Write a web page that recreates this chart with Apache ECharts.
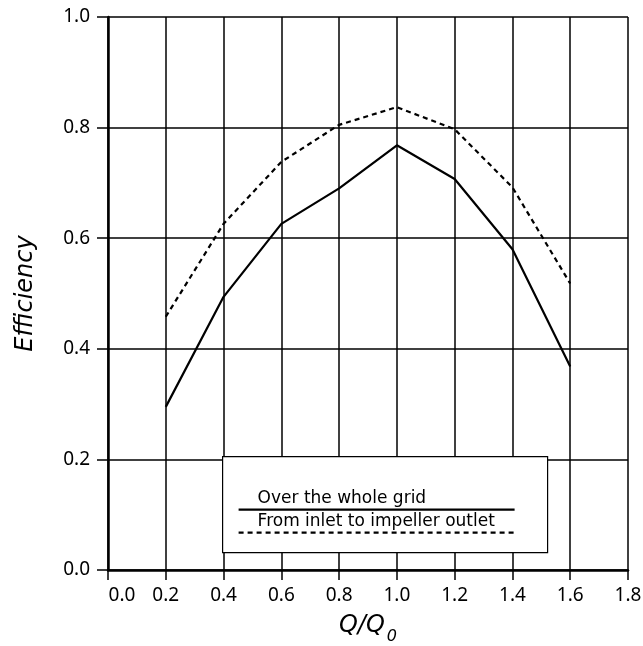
<!DOCTYPE html>
<html>
<head>
<meta charset="utf-8">
<style>
  html, body { margin: 0; padding: 0; background: #fff; }
  #chart { width: 643px; height: 646px; }
</style>
<script src="https://cdn.jsdelivr.net/npm/echarts@6/dist/echarts.min.js"></script>
</head>
<body>
<div id="chart"></div>
<script>
// Flow ratio Q/Q0 and efficiency curves
const flowRatio = [0.2, 0.4, 0.6, 0.8, 1.0, 1.2, 1.4, 1.6];
const effWholeGrid = [0.295, 0.494, 0.626, 0.690, 0.768, 0.707, 0.580, 0.368];
const effInletToOutlet = [0.458, 0.626, 0.738, 0.805, 0.837, 0.797, 0.692, 0.518];
const seriesNames = ['Over the whole grid', 'From inlet to impeller outlet'];
const xTicks = [0.0, 0.2, 0.4, 0.6, 0.8, 1.0, 1.2, 1.4, 1.6, 1.8];
const yTicks = [0.0, 0.2, 0.4, 0.6, 0.8, 1.0];

const FONT = 'Noto Sans';
const NAME_FONT = 'DejaVu Sans';
const pairs = (xs, ys) => xs.map((x, i) => [x, ys[i]]);

const chart = echarts.init(document.getElementById('chart'), null, { renderer: 'canvas' });

chart.setOption({
  animation: false,
  backgroundColor: '#fff',
  grid: { left: 108, right: 15, top: 17, bottom: 76, containLabel: false, outerBoundsMode: 'none' },
  xAxis: {
    type: 'value',
    min: xTicks[0],
    max: xTicks[xTicks.length - 1],
    interval: 0.2,
    name: '{q|Q/Q}{sub|0}',
    nameLocation: 'middle',
    nameGap: 44,
    nameTextStyle: {
      verticalAlign: 'top',
      rich: {
        q: { fontFamily: NAME_FONT, fontStyle: 'italic', fontSize: 24, color: '#000', verticalAlign: 'top' },
        sub: { fontFamily: NAME_FONT, fontStyle: 'italic', fontSize: 16, color: '#000', verticalAlign: 'top', padding: [15, 0, 0, 2] }
      }
    },
    axisLine: { show: true, lineStyle: { color: '#000', width: 2.5 } },
    axisTick: { show: true, inside: false, length: 10, lineStyle: { color: '#000', width: 1.5 } },
    axisLabel: {
      margin: 16,
      fontFamily: FONT, fontSize: 19, color: '#000',
      formatter: v => v === 0 ? '{first|' + v.toFixed(1) + '}' : v.toFixed(1),
      rich: { first: { fontFamily: FONT, fontSize: 19, color: '#000', padding: [0, 0, 0, 28] } }
    },
    splitLine: { show: true, lineStyle: { color: '#000', width: 1.5 } }
  },
  yAxis: {
    type: 'value',
    min: yTicks[0],
    max: yTicks[yTicks.length - 1],
    interval: 0.2,
    name: 'Efficiency',
    nameLocation: 'middle',
    nameGap: 70,
    nameTextStyle: { fontFamily: NAME_FONT, fontStyle: 'italic', fontSize: 24, color: '#000' },
    axisLine: { show: true, lineStyle: { color: '#000', width: 2.5 } },
    axisTick: { show: true, inside: false, length: 11, lineStyle: { color: '#000', width: 1.5 } },
    axisLabel: {
      margin: 18,
      fontFamily: FONT, fontSize: 19, color: '#000',
      formatter: v => v.toFixed(1)
    },
    splitLine: { show: true, lineStyle: { color: '#000', width: 1.5 } }
  },
  series: [
    {
      name: seriesNames[0],
      type: 'line',
      data: pairs(flowRatio, effWholeGrid),
      symbol: 'none',
      lineStyle: { color: '#000', width: 2.2, type: 'solid' },
      z: 5
    },
    {
      name: seriesNames[1],
      type: 'line',
      data: pairs(flowRatio, effInletToOutlet),
      symbol: 'none',
      lineStyle: { color: '#000', width: 2.2, type: [5, 4] },
      z: 5
    }
  ],
  // Key box drawn over the grid, each entry as a label above its line sample
  graphic: [
    {
      type: 'group',
      left: 222, top: 456, z: 100,
      children: [
        { type: 'rect', z: 100, shape: { x: 0, y: 0, width: 325, height: 96 },
          style: { fill: '#fff', stroke: '#000', lineWidth: 1.2 } },
        { type: 'text', z: 101, x: 35, y: 42,
          style: { text: seriesNames[0], fontFamily: 'DejaVu Sans', fontSize: 17, fill: '#000', verticalAlign: 'middle' } },
        { type: 'line', z: 101, shape: { x1: 16, y1: 53, x2: 292, y2: 53 },
          style: { stroke: '#000', lineWidth: 2.2 } },
        { type: 'text', z: 101, x: 35, y: 65,
          style: { text: seriesNames[1], fontFamily: 'DejaVu Sans', fontSize: 17, fill: '#000', verticalAlign: 'middle' } },
        { type: 'line', z: 101, shape: { x1: 16, y1: 76, x2: 292, y2: 76 },
          style: { stroke: '#000', lineWidth: 2.2, lineDash: [5, 4] } }
      ]
    }
  ]
});
</script>
</body>
</html>
